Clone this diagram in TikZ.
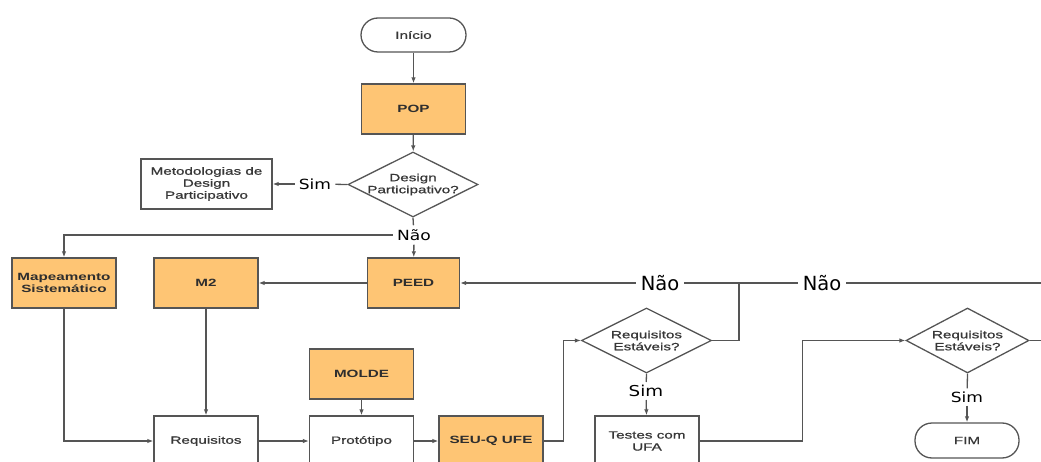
\documentclass[tikz,border=0pt]{standalone}
\usepackage{fontspec}
\setmainfont[FakeStretch=1.45]{Liberation Sans}
\newfontfamily\semibold[FakeStretch=1.45,FakeBold=0.9]{Liberation Sans}
\newfontfamily\labfont[FakeStretch=1.22]{DejaVu Sans}
\newfontfamily\biglabfont{DejaVu Sans}
\usetikzlibrary{shapes.geometric,arrows.meta}
\definecolor{boxorange}{RGB}{254,197,116}
\definecolor{edgegray}{RGB}{85,85,85}
\definecolor{txtgray}{RGB}{55,55,55}
\begin{document}
\begin{tikzpicture}[x=1pt,y=-1pt,
  box/.style={draw=edgegray,line width=1.3pt,minimum width=104pt,minimum height=50pt,
    font=\semibold\fontsize{10.5}{12}\selectfont,text=txtgray,align=center,inner sep=0pt},
  obox/.style={box,fill=boxorange,font=\fontsize{10.5}{12}\selectfont\bfseries,text=black!82},
  wbox/.style={box,fill=white},
  term/.style={draw=edgegray,line width=1.3pt,rectangle,rounded corners=17pt,minimum width=105pt,minimum height=34pt,
    font=\semibold\fontsize{10.5}{12}\selectfont,text=txtgray,inner sep=0pt},
  dec/.style={draw=edgegray,line width=1.3pt,diamond,aspect=2,minimum width=130pt,minimum height=65pt,
    font=\semibold\fontsize{10.5}{12}\selectfont,text=txtgray,align=center,inner xsep=-12pt,inner ysep=0pt},
  lab/.style={font=\labfont\fontsize{14}{16}\selectfont,text=black,inner sep=4pt},
  biglab/.style={font=\biglabfont\fontsize{19.5}{21}\selectfont,text=black,inner sep=5pt},
  conn/.style={draw=edgegray,line width=1.3pt},
  arr/.style={conn,-{Latex[length=6pt,width=4.5pt]}}
]
\useasboundingbox (0,0) rectangle (1041,462);

% nodes
\node[term] (inicio) at (413.5,35) {Início};
\node[obox] (pop) at (413.5,109) {POP};
\node[dec] (d1) at (413,184.5) {Design\\Participativo?};
\node[wbox,minimum width=131pt] (meto) at (206.5,184) {Metodologias de\\Design\\Participativo};
\node[lab] (sim1) at (315,184) {Sim};
\node[lab] (nao1) at (414,235) {Não};

\node[obox] (map) at (64,283) {Mapeamento\\Sistemático};
\node[obox] (m2) at (206,283) {M2};
\node[obox,minimum width=92pt] (peed) at (413.5,283) {PEED};
\node[obox] (molde) at (361.5,374) {MOLDE};
\node[wbox] (req) at (206,441) {Requisitos};
\node[wbox] (prot) at (361.5,441) {Protótipo};
\node[obox] (seu) at (491,441) {SEU-Q UFE};

\node[dec] (d2) at (646.5,340.5) {Requisitos\\Estáveis?};
\node[biglab] (nao2) at (660,283) {Não};
\node[biglab] (nao3) at (822,283) {Não};
\coordinate (j1) at (739,283);
\coordinate (rend1) at (1041,283);
\node[lab,font=\labfont\fontsize{15}{17}\selectfont,inner sep=3pt] (sim2) at (646,391) {Sim};
\node[wbox] (testes) at (647,441) {Testes com\\UFA};

\node[dec,minimum width=123pt] (d3) at (967.5,340.5) {Requisitos\\Estáveis?};
\coordinate (rend2) at (1041,340.5);
\node[lab,inner sep=3pt] (sim3) at (967,397) {Sim};
\node[term,minimum width=104pt,minimum height=35pt] (fim) at (967,440.5) {FIM};

% connectors
\draw[arr] (inicio) -- (pop);
\draw[arr] (pop) -- (d1);
\draw[conn] (d1.west) -- (sim1);
\draw[arr] (sim1) -- (meto);
\draw[conn] (d1.south) -- (nao1);
\draw[arr] (nao1.west) -| (map.north);
\draw[arr] (nao1) -- (peed);
\draw[arr] (peed) -- (m2);
\draw[arr] (map.south) |- (req.west);
\draw[arr] (m2) -- (req);
\draw[arr] (req) -- (prot);
\draw[arr] (molde) -- (prot);
\draw[arr] (prot) -- (seu);
\draw[arr] (seu.east) -- ++(20,0) |- (d2.west);
\draw[conn] (d2.east) -| (j1);
\draw[conn] (j1) -- (nao2);
\draw[arr] (nao2) -- (peed);
\draw[conn] (j1) -- (nao3);
\draw[conn] (nao3) -- (rend1);
\draw[conn] (d2.south) -- (sim2);
\draw[arr] (sim2) -- (testes);
\draw[arr] (testes.east) -- ++(103,0) |- (d3.west);
\draw[conn] (d3.east) -- (rend2);
\draw[conn] (d3.south) -- (sim3);
\draw[arr] (sim3) -- (fim);
\end{tikzpicture}
\end{document}
